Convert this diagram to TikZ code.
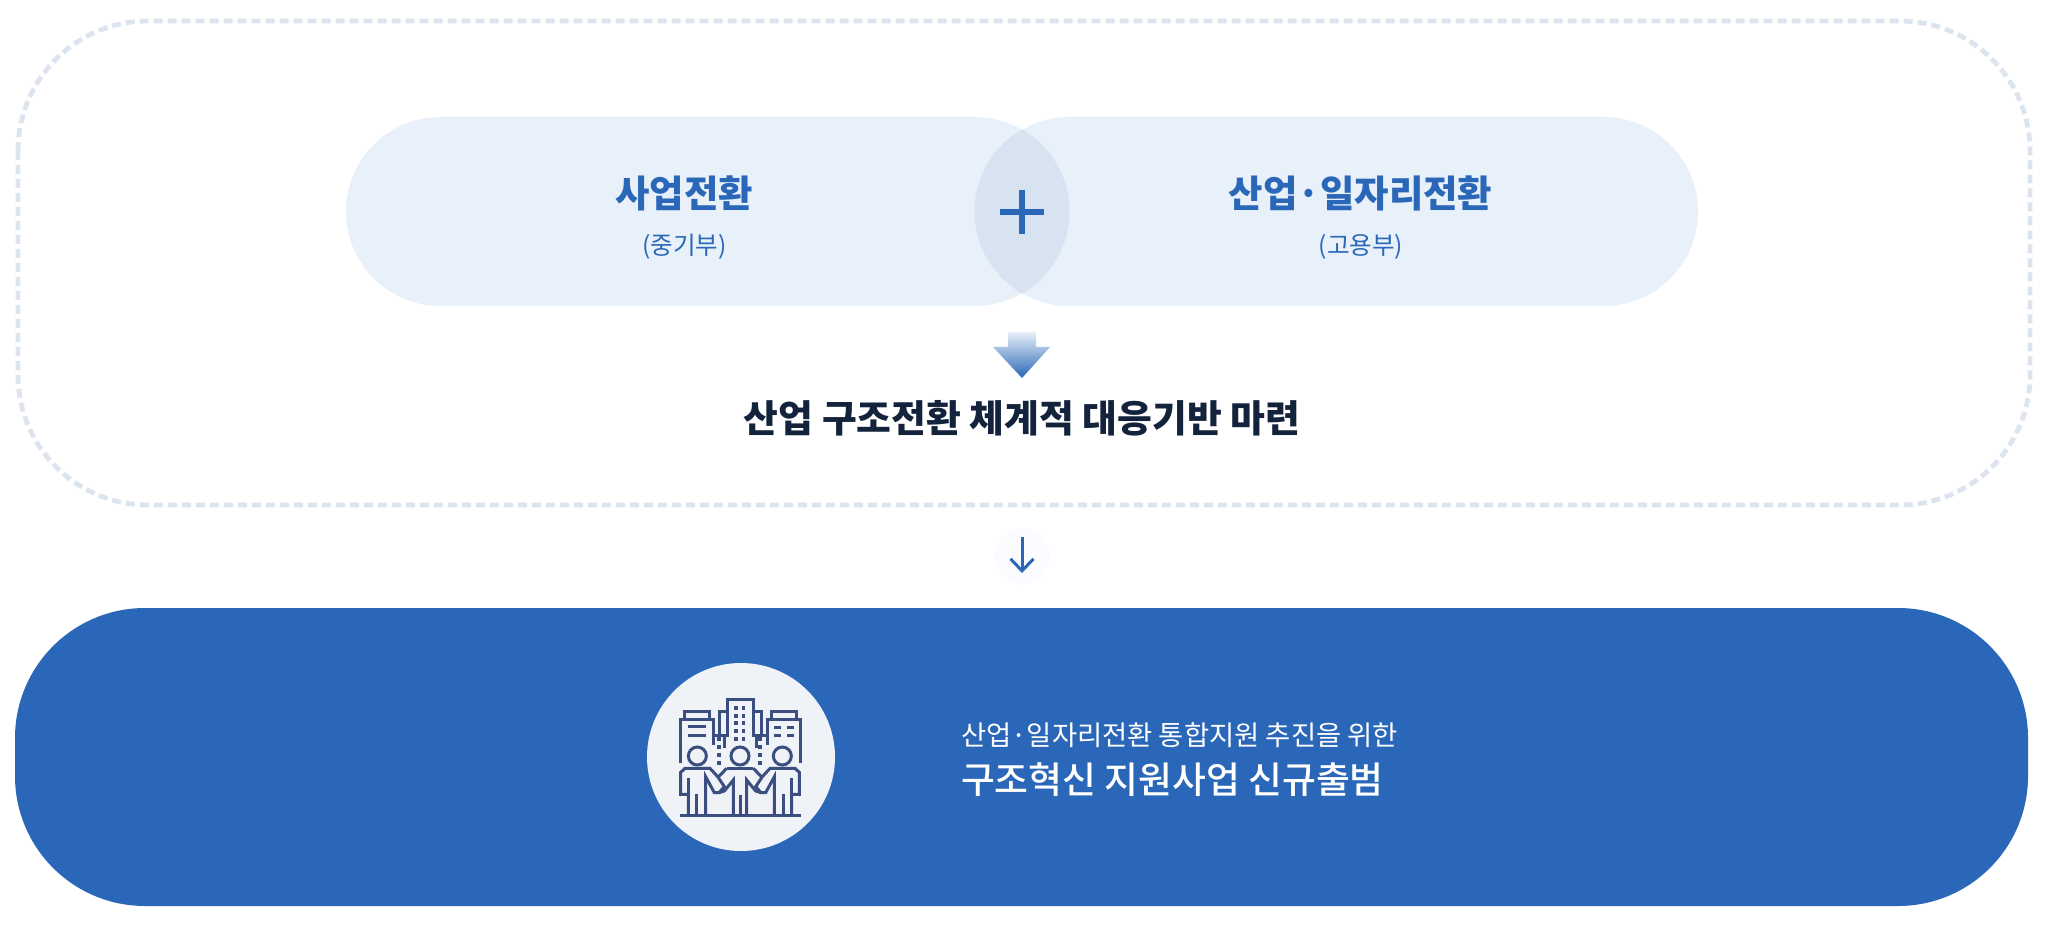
\documentclass[tikz,border=0pt]{standalone}
\usepackage{fontspec}
\setmainfont{Noto Sans CJK KR}
\newfontfamily\krmed{Noto Sans CJK KR Medium}
\usetikzlibrary{arrows.meta,shapes.misc,shadings}
\definecolor{mainblue}{HTML}{2B67B8}
\definecolor{pillfill}{HTML}{E8F0F9}
\definecolor{lensfill}{HTML}{D7E3F0}
\definecolor{dashcol}{HTML}{DCE4EF}
\definecolor{darktext}{HTML}{14233C}
\definecolor{iconcol}{HTML}{3A4F7F}
\definecolor{discfill}{HTML}{EFF2F7}
\definecolor{halo}{HTML}{FAFCFF}
\tikzset{
  txt/.style={inner sep=0pt,outer sep=0pt,align=center},
  pill/.style={rounded rectangle,minimum height=94.5pt,inner sep=0pt,fill=pillfill},
  iconline/.style={draw=iconcol,line width=1.5pt,line join=miter},
  iconwin/.style={fill=iconcol}
}
\begin{document}
\begin{tikzpicture}[x=0.5pt,y=-0.5pt]
\useasboundingbox (0,0) rectangle (2048,930);
\fill[white] (0,0) rectangle (2048,930);
% dashed frame
\draw[dashcol,line width=2.4pt,dash pattern=on 4.5pt off 2.5pt,rounded corners=65pt] (18,21) rectangle (2030,505);
% pills
\node[pill,minimum width=361.5pt] (pl) at (707.5,211.5) {};
\node[pill,minimum width=361.5pt] (pr) at (1336.5,211.5) {};
\begin{scope}
\clip (975,211.5) circle (94.5);
\fill[lensfill] (1069,211.5) circle (94.5);
\end{scope}
% plus
\coordinate (plusc) at (1022,212);
\fill[mainblue] (1000,209) rectangle (1044,215);
\fill[mainblue] (1019,190) rectangle (1025,234);
% labels
\node[txt,text=mainblue,font=\fontsize{18.7pt}{22pt}\selectfont\bfseries] (t1) at (684,193.5) {사업전환};
\node[txt,text=mainblue,font=\fontsize{12.3pt}{15pt}\selectfont] (t2) at (684.5,247) {(중기부)};
\node[txt,text=mainblue,font=\fontsize{18.7pt}{22pt}\selectfont\bfseries] (t3) at (1360.5,193.5) {산업·일자리전환};
\node[txt,text=mainblue,font=\fontsize{12.3pt}{15pt}\selectfont] (t4) at (1361,247) {(고용부)};
% gradient arrow
\shade[top color=pillfill,bottom color=mainblue]
  (1008,332) -- (1036,332) -- (1036,347) -- (1050,347) -- (1022,378) -- (993,347) -- (1008,347) -- cycle;
\node[txt,text=darktext,font=\fontsize{18.9pt}{24pt}\selectfont\bfseries] (t5) at (1022,418) {산업 구조전환 체계적 대응기반 마련};
% connector
\node[circle,fill=halo,minimum size=28pt,inner sep=0pt] (halo) at (1022,556) {};
\coordinate (a1) at (1022,537);
\coordinate (a2) at (1022,573);
\draw[mainblue,line width=1.5pt,-{Straight Barb[length=6pt,width=11.5pt,line width=1.5pt]}] (a1) -- (a2);
% bottom band
\fill[mainblue,rounded corners=65pt] (15,608) rectangle (2028,906);
\node[circle,fill=discfill,minimum size=94pt,inner sep=0pt] (disc) at (741,757) {};
\node[txt,anchor=west,text=white,font=\fontsize{13.7pt}{16pt}\selectfont] (t6) at (961,735) {산업·일자리전환 통합지원 추진을 위한};
\node[txt,anchor=west,text=white,font=\fontsize{18.4pt}{24pt}\selectfont\krmed] (t7) at (961,780) {구조혁신 지원사업 신규출범};
% icon
\begin{scope}[shift={(675,695)},x=0.16667pt,y=-0.16667pt]
\draw[iconline] (14,360) -- (378,360);
% buildings
\draw[iconline] (28,72) -- (28,48) -- (103,48) -- (103,72);
\draw[iconline] (17,205) -- (17,72) -- (115,72) -- (115,150);
\draw[iconline] (38,93) -- (92,93);
\draw[iconline] (38,120) -- (92,120);
\draw[iconline] (157,125) -- (157,13) -- (234,13) -- (234,125);
\draw[iconline] (157,50) -- (134,50) -- (134,120);
\draw[iconline] (234,50) -- (258,50) -- (258,120);
\draw[iconline] (115,120) -- (148,120) -- (148,160);
\draw[iconline] (244,160) -- (244,120) -- (277,120);
\foreach \xx in {183,206}{\foreach \yy in {38,62,85,108,132}{
  \fill[iconwin] (\xx-5,\yy-6) rectangle (\xx+5,\yy+6);}}
\foreach \yy in {132,157,180,205}{
  \fill[iconwin] (126,\yy-6) rectangle (138,\yy+6);
  \fill[iconwin] (250,\yy-6) rectangle (262,\yy+6);}
\draw[iconline] (288,72) -- (288,48) -- (365,48) -- (365,72);
\draw[iconline] (375,205) -- (375,72) -- (277,72) -- (277,150);
\foreach \yy in {97,122}{
  \draw[iconline] (297,\yy) -- (318,\yy);
  \draw[iconline] (335,\yy) -- (357,\yy);}
% heads
\foreach \xx in {67,195,322}{\draw[iconline,fill=discfill] (\xx,183) circle (27);}
% centre person
\draw[iconline] (155,220) -- (235,220);
\draw[iconline] (195,300) -- (195,360);
% side people and arms, mirrored
\foreach \mm/\ss in {0/1,390/-1}{
\begin{scope}[shift={(\mm,0)},xscale=\ss]
\draw[iconline] (40,360) -- (40,298) -- (17,298) -- (17,232) -- (30,220) -- (105,220) -- (128,245) -- (148,275) -- (132,293) -- (118,293) -- (92,245) -- (92,360);
\draw[iconline] (40,250) -- (40,298);
\draw[iconline] (65,298) -- (65,360);
\draw[iconline] (155,220) -- (128,248);
\draw[iconline] (175,360) -- (175,255) -- (148,288) -- (132,293);
\end{scope}}
\end{scope}
\end{tikzpicture}
\end{document}
